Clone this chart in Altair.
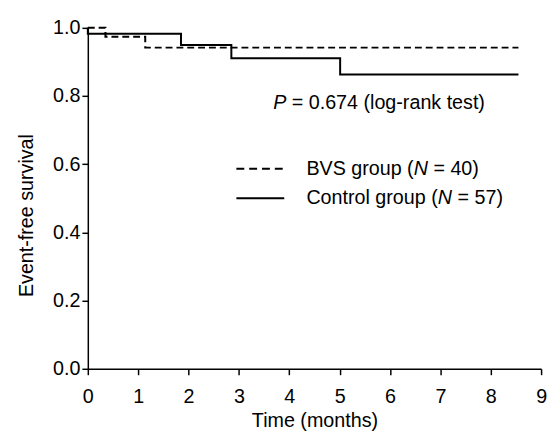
import altair as alt
import pandas as pd

# Kaplan-Meier step data
bvs_time = [0, 0.35, 1.14, 8.55]
bvs_surv = [1.0, 0.974, 0.942, 0.942]
ctrl_time = [0, 0, 1.85, 2.85, 5.01, 8.55]
ctrl_surv = [1.0, 0.983, 0.950, 0.911, 0.863, 0.863]

x_ticks = [0, 1, 2, 3, 4, 5, 6, 7, 8, 9]
y_ticks = [0.0, 0.2, 0.4, 0.6, 0.8, 1.0]

FONT = "Liberation Sans"
FS = 20

bvs = pd.DataFrame({"t": bvs_time, "s": bvs_surv})
ctrl = pd.DataFrame({"t": ctrl_time, "s": ctrl_surv})

xs = alt.Scale(domain=[0, 9], nice=False)
ys = alt.Scale(domain=[0, 1], nice=False)

xenc = alt.X("t:Q", scale=xs, axis=alt.Axis(values=x_ticks, title="Time (months)", format="d",
                                             titleFontWeight="normal", labelPadding=12, titlePadding=5))
yenc = alt.Y("s:Q", scale=ys, axis=alt.Axis(values=y_ticks, title="Event-free survival", format=".1f",
                                             titleFontWeight="normal", labelPadding=2, titlePadding=16,
                                             titleY=190))

ctrl_line = alt.Chart(ctrl).mark_line(interpolate="step-after", color="black", strokeWidth=2).encode(x=xenc, y=yenc)
bvs_line = alt.Chart(bvs).mark_line(interpolate="step-after", color="black", strokeWidth=2, strokeDash=[7, 4]).encode(x=xenc, y=yenc)

# Legend entries
leg = pd.DataFrame({
    "x1": [2.95, 2.95], "x2": [3.9, 3.9], "y": [0.587, 0.5], "grp": ["BVS", "Control"]
})
leg_bvs = alt.Chart(leg[leg.grp == "BVS"]).mark_rule(color="black", strokeWidth=2, strokeDash=[8, 5]).encode(
    x=alt.X("x1:Q", scale=xs), x2="x2:Q", y=alt.Y("y:Q", scale=ys))
leg_ctrl = alt.Chart(leg[leg.grp == "Control"]).mark_rule(color="black", strokeWidth=2).encode(
    x=alt.X("x1:Q", scale=xs), x2="x2:Q", y=alt.Y("y:Q", scale=ys))

def txt(x, y, s, italic=False, dx=0):
    df = pd.DataFrame({"x": [x], "y": [y], "s": [s]})
    return alt.Chart(df).mark_text(
        align="left", baseline="middle", font=FONT, fontSize=FS, color="black",
        fontStyle="italic" if italic else "normal", dx=dx
    ).encode(x=alt.X("x:Q", scale=xs), y=alt.Y("y:Q", scale=ys), text="s:N")

texts = [
    txt(3.68, 0.78, "P", True),
    txt(3.68, 0.78, "= 0.674 (log-rank test)", False, dx=18.9),
    txt(4.34, 0.587, "BVS group (", False),
    txt(4.34, 0.587, "N", True, dx=108.9),
    txt(4.34, 0.587, "= 40)", False, dx=128.9),
    txt(4.34, 0.5, "Control group (", False),
    txt(4.34, 0.5, "N", True, dx=133.4),
    txt(4.34, 0.5, "= 57)", False, dx=153.4),
]

chart = alt.layer(ctrl_line, bvs_line, leg_bvs, leg_ctrl, *texts).properties(
    width=460, height=346,
    autosize="none",
    padding={"left": 81, "top": 17, "right": 7, "bottom": 61},
).configure_view(stroke=None).configure_axis(
    grid=False, domainColor="black", domainWidth=1.5, tickColor="black", tickWidth=1.5,
    tickSize=6, labelFont=FONT, labelFontSize=FS, labelColor="black",
    titleFont=FONT, titleFontSize=FS, titleFontWeight="normal", titleColor="black",
).configure_axisX(labelFlush=False)

chart.save("out.html", embed_options={"renderer": "svg", "actions": False})
